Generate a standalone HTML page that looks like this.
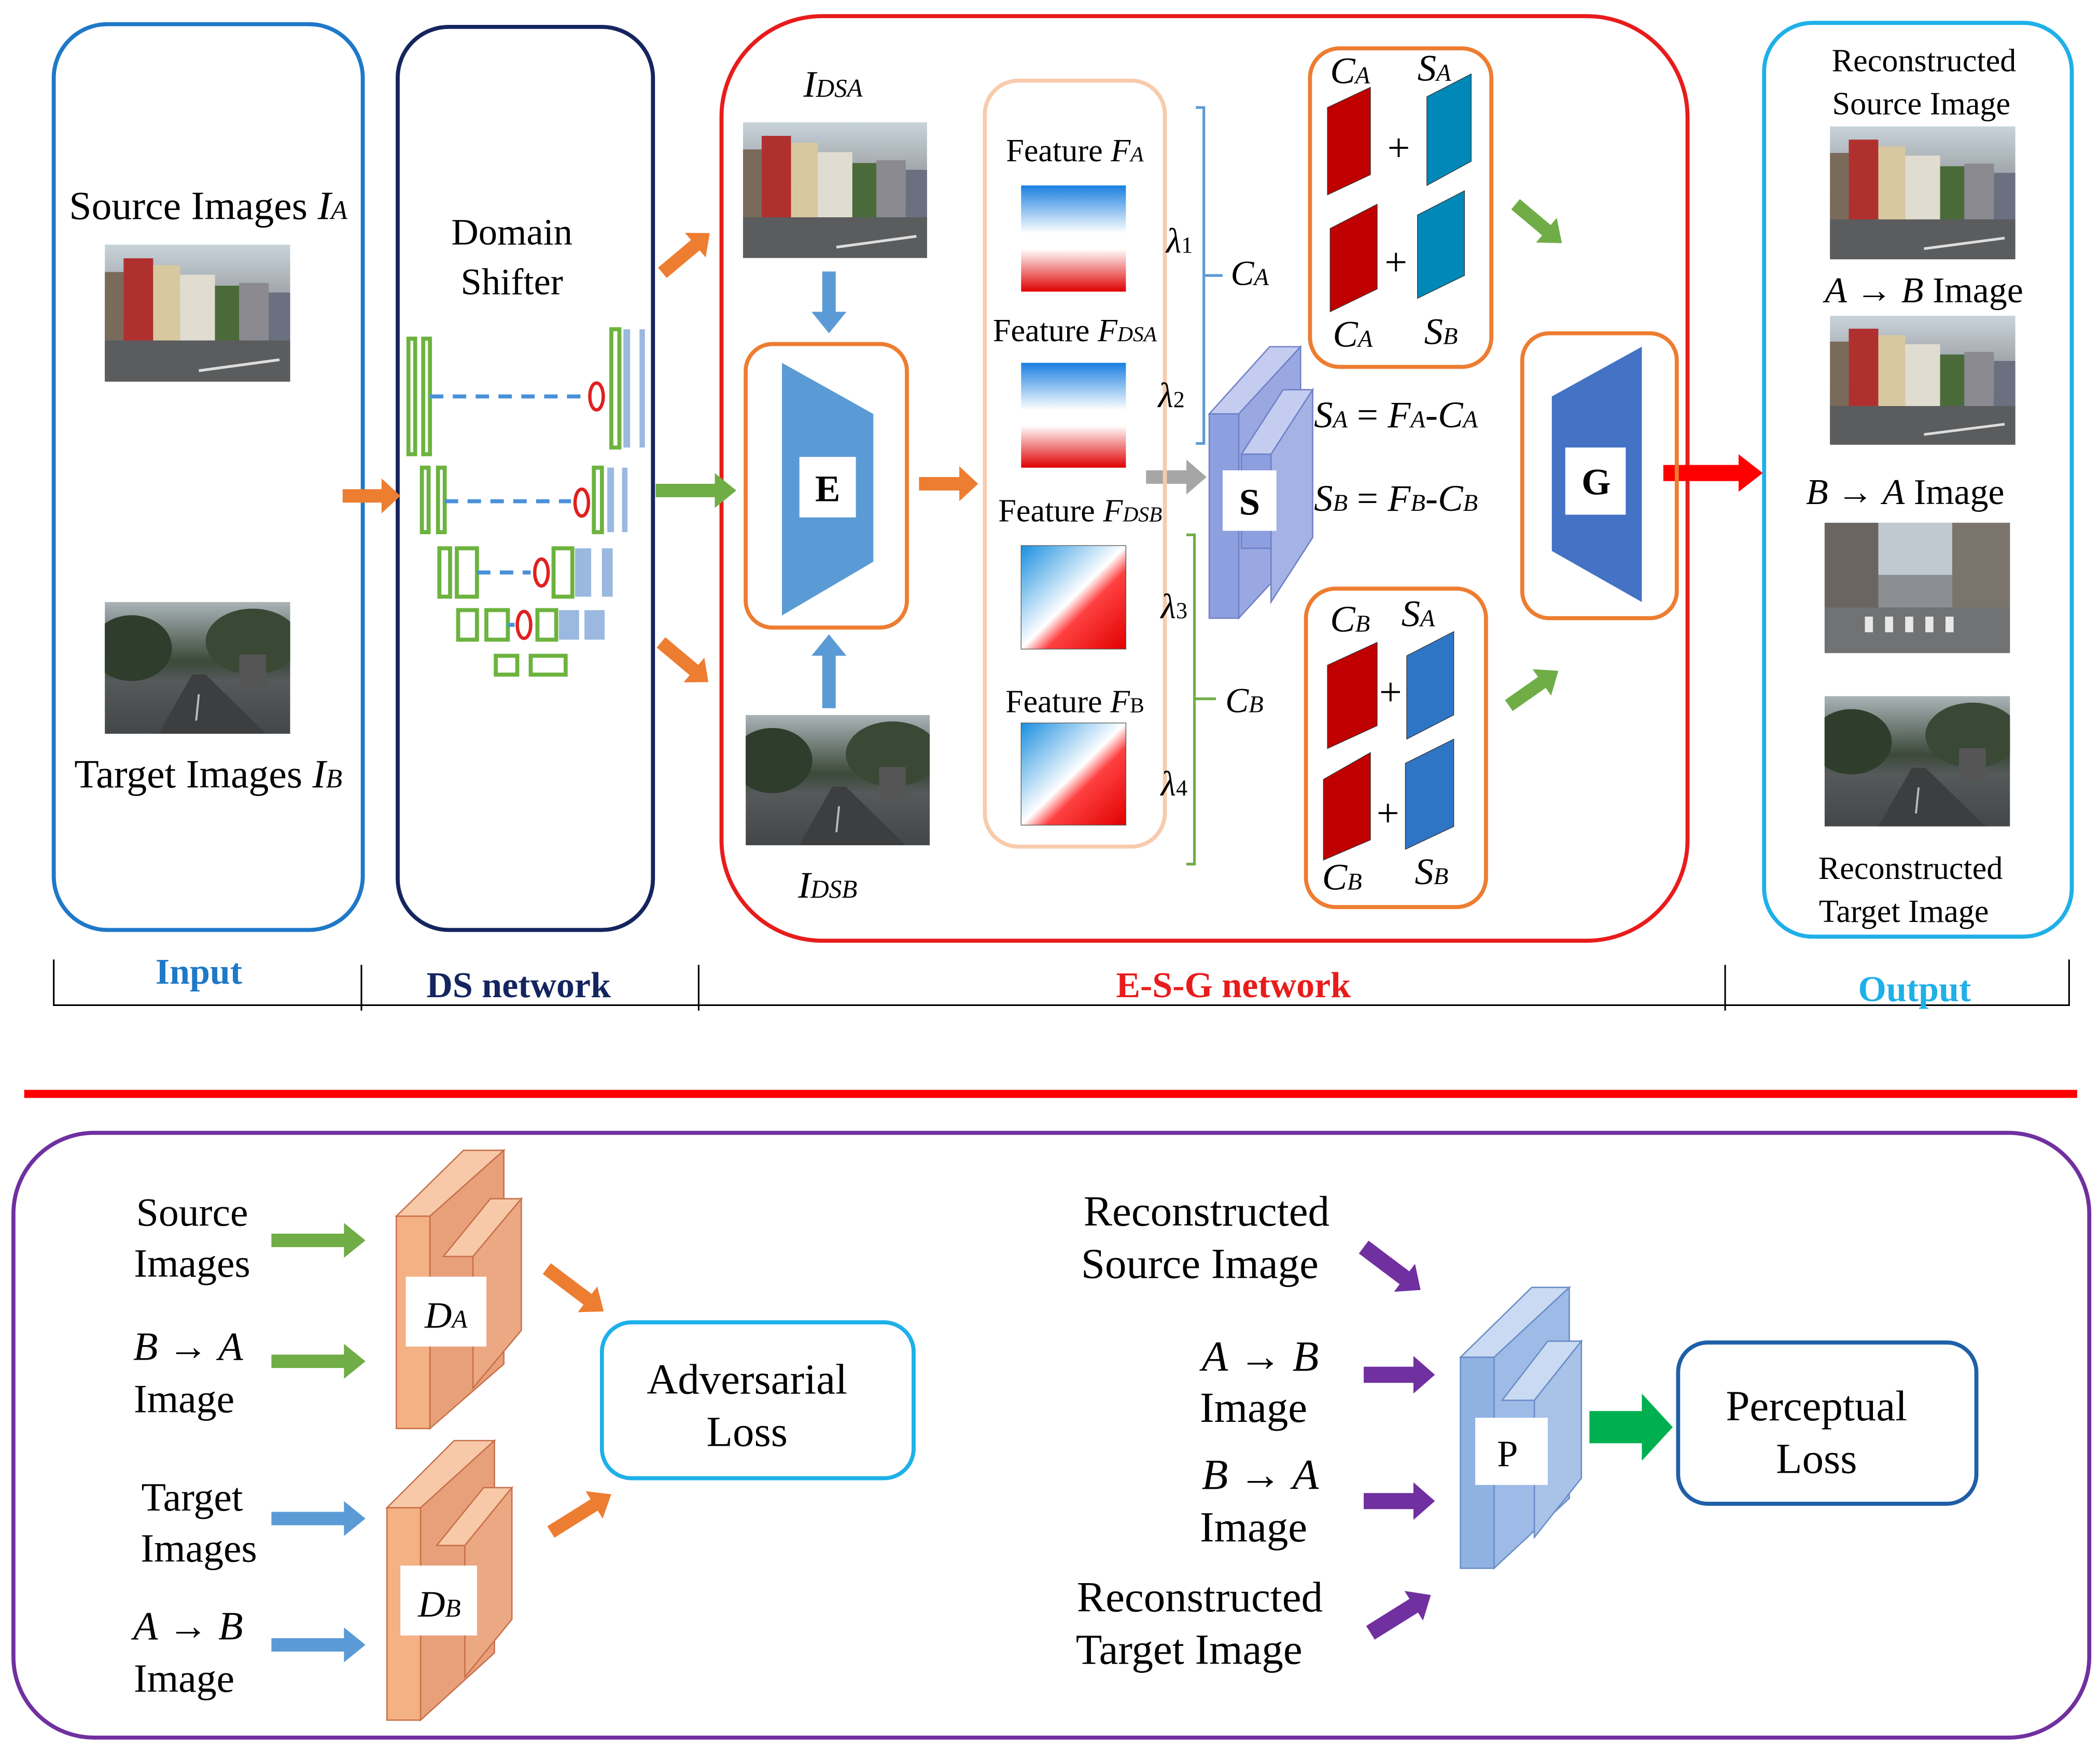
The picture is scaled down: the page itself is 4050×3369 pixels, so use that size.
<!DOCTYPE html>
<html><head><meta charset="utf-8"><style>
html,body{margin:0;padding:0;background:#fff;}
svg{display:block;}
text{font-family:"Liberation Serif",serif;fill:#000;}
</style></head><body>
<svg width="4050" height="3369" viewBox="0 0 1563 1300" preserveAspectRatio="none" xmlns="http://www.w3.org/2000/svg">
<defs>
<linearGradient id="sky" x1="0" y1="0" x2="0" y2="1"><stop offset="0" stop-color="#c9d3da"/><stop offset="0.55" stop-color="#8a8f92"/><stop offset="0.7" stop-color="#5a5d5f"/><stop offset="1" stop-color="#6c6e70"/></linearGradient>
<linearGradient id="sky2" x1="0" y1="0" x2="0" y2="1"><stop offset="0" stop-color="#aab4b8"/><stop offset="0.45" stop-color="#3c4a3a"/><stop offset="0.6" stop-color="#55595a"/><stop offset="1" stop-color="#44474a"/></linearGradient>
<linearGradient id="fv" x1="0" y1="0" x2="0" y2="1"><stop offset="0" stop-color="#1a7fe0"/><stop offset="0.45" stop-color="#ffffff"/><stop offset="0.6" stop-color="#ffffff"/><stop offset="1" stop-color="#e00000"/></linearGradient>
<linearGradient id="fd" x1="0" y1="0" x2="1" y2="1"><stop offset="0" stop-color="#1a8fe0"/><stop offset="0.5" stop-color="#ffffff"/><stop offset="0.62" stop-color="#ff4040"/><stop offset="1" stop-color="#e00000"/></linearGradient>
<symbol id="city" viewBox="0 0 138 100" preserveAspectRatio="none">
<rect width="138" height="100" fill="url(#sky)"/>
<rect x="0" y="20" width="14" height="50" fill="#7a6a5a"/>
<rect x="14" y="10" width="22" height="60" fill="#b03030"/>
<rect x="36" y="15" width="20" height="55" fill="#d8c8a0"/>
<rect x="56" y="22" width="26" height="48" fill="#e0ddd0"/>
<rect x="82" y="30" width="18" height="40" fill="#4a6a3a"/>
<rect x="100" y="28" width="22" height="42" fill="#8a8a90"/>
<rect x="122" y="35" width="16" height="35" fill="#6a7080"/>
<rect x="0" y="70" width="138" height="30" fill="#5a5c5e"/>
<line x1="70" y1="92" x2="130" y2="84" stroke="#ddd" stroke-width="2"/>
</symbol>
<symbol id="street" viewBox="0 0 138 100" preserveAspectRatio="none">
<rect width="138" height="100" fill="url(#sky2)"/>
<ellipse cx="20" cy="35" rx="30" ry="25" fill="#2f3d2c"/>
<ellipse cx="110" cy="30" rx="35" ry="25" fill="#3a4836"/>
<rect x="100" y="40" width="20" height="25" fill="#555"/>
<polygon points="40,100 65,55 75,55 120,100" fill="#3c3e40"/>
<line x1="70" y1="70" x2="68" y2="90" stroke="#bbb" stroke-width="1.5"/>
</symbol>
<symbol id="street2" viewBox="0 0 138 100" preserveAspectRatio="none">
<rect width="138" height="100" fill="#8a8e92"/>
<rect x="0" y="0" width="40" height="65" fill="#6a6560"/>
<rect x="95" y="0" width="43" height="65" fill="#7a746c"/>
<rect x="40" y="0" width="55" height="40" fill="#c0c8d0"/>
<rect x="0" y="65" width="138" height="35" fill="#707274"/>
<g fill="#e8e8e8"><rect x="30" y="72" width="6" height="12"/><rect x="45" y="72" width="6" height="12"/><rect x="60" y="72" width="6" height="12"/><rect x="75" y="72" width="6" height="12"/><rect x="90" y="72" width="6" height="12"/></g>
</symbol>
</defs>

<!-- Top boxes -->
<rect x="40" y="18" width="230" height="674" rx="40" fill="none" stroke="#1f78c8" stroke-width="3"/>
<rect x="296" y="20" width="190" height="672" rx="38" fill="none" stroke="#14255f" stroke-width="3"/>
<rect x="537" y="12" width="719" height="688" rx="75" fill="none" stroke="#e81c1c" stroke-width="3"/>
<rect x="1313" y="17" width="229" height="680" rx="36" fill="none" stroke="#1fb0e8" stroke-width="3"/>

<!-- Input -->
<text x="155" y="163" font-size="30" text-anchor="middle">Source Images <tspan font-style="italic">I</tspan><tspan font-style="italic" font-size="20">A</tspan></text>
<use href="#city" x="78" y="182" width="138" height="102"/>
<use href="#street" x="78" y="448" width="138" height="98"/>
<text x="155" y="586" font-size="30" text-anchor="middle">Target Images <tspan font-style="italic">I</tspan><tspan font-style="italic" font-size="20">B</tspan></text>

<!-- DS -->
<text x="381" y="182" font-size="28" text-anchor="middle">Domain</text>
<text x="381" y="219" font-size="28" text-anchor="middle">Shifter</text>
<g stroke="#6cb33f" stroke-width="3" fill="none">
<rect x="304" y="252" width="5" height="86"/><rect x="315" y="252" width="5" height="86"/>
<rect x="314" y="348" width="5" height="48"/><rect x="326" y="348" width="5" height="48"/>
<rect x="327" y="408" width="8" height="36"/><rect x="340" y="408" width="15" height="36"/>
<rect x="341" y="454" width="14" height="22"/><rect x="362" y="454" width="16" height="22"/>
<rect x="369" y="488" width="16" height="14"/><rect x="395" y="488" width="26" height="14"/>
<rect x="455" y="245" width="6" height="88"/>
<rect x="442" y="348" width="6" height="48"/>
<rect x="412" y="408" width="14" height="36"/>
<rect x="400" y="454" width="14" height="22"/>
</g>
<g fill="#9ab8e0"><rect x="464" y="245" width="5" height="88"/><rect x="476" y="245" width="4" height="88"/>
<rect x="452" y="348" width="5" height="48"/><rect x="463" y="348" width="4" height="48"/>
<rect x="428" y="408" width="12" height="36"/><rect x="448" y="408" width="8" height="36"/>
<rect x="416" y="454" width="15" height="22"/><rect x="435" y="454" width="15" height="22"/></g>
<g stroke="#4a90d9" stroke-width="3" stroke-dasharray="10,7" fill="none">
<line x1="320" y1="295" x2="435" y2="295"/><line x1="331" y1="373" x2="425" y2="373"/>
<line x1="355" y1="426" x2="395" y2="426"/><line x1="378" y1="465" x2="383" y2="465"/></g>
<g fill="none" stroke="#e02020" stroke-width="2.5">
<ellipse cx="444" cy="295" rx="5" ry="10"/><ellipse cx="433" cy="374" rx="5" ry="10"/>
<ellipse cx="403" cy="426" rx="5" ry="10"/><ellipse cx="390" cy="465" rx="5" ry="10"/></g>

<!-- arrows helper: shaft + head -->
<g fill="#ed7d31">
<polygon points="255,364 284,364 284,356 298,369 284,382 284,374 255,374"/>
<g transform="translate(493,203) rotate(-40)"><polygon points="0,-5 32,-5 32,-12 46,0 32,12 32,5 0,5"/></g>
<g transform="translate(492,478) rotate(40)"><polygon points="0,-5 32,-5 32,-12 46,0 32,12 32,5 0,5"/></g>
<polygon points="684,355 714,355 714,347 728,360 714,373 714,365 684,365"/>
</g>
<polygon fill="#70ad47" points="488,360 532,360 532,352 548,365 532,378 532,370 488,370"/>
<g fill="#5b9bd5">
<polygon points="612,202 622,202 622,232 630,232 617,248 604,232 612,232"/>
<polygon points="612,527 622,527 622,488 630,488 617,472 604,488 612,488"/>
</g>
<polygon fill="#a6a6a6" points="853,350 883,350 883,342 898,355 883,368 883,360 853,360"/>
<g fill="#70ad47">
<g transform="translate(1128,152) rotate(40)"><polygon points="0,-5 30,-5 30,-12 45,0 30,12 30,5 0,5"/></g>
<g transform="translate(1123,525) rotate(-35)"><polygon points="0,-5 30,-5 30,-12 45,0 30,12 30,5 0,5"/></g>
</g>
<polygon fill="#ff0000" points="1238,346 1294,346 1294,338 1312,352 1294,366 1294,358 1238,358"/>

<!-- E-S-G -->
<text x="620" y="72" font-size="28" font-style="italic" text-anchor="middle">I<tspan font-size="19">DSA</tspan></text>
<use href="#city" x="553" y="91" width="137" height="101"/>
<use href="#street" x="555" y="532" width="137" height="97"/>
<text x="616" y="668" font-size="28" font-style="italic" text-anchor="middle">I<tspan font-size="19">DSB</tspan></text>
<rect x="555" y="256" width="120" height="211" rx="20" fill="none" stroke="#ed7d31" stroke-width="3"/>
<polygon points="582,270 650,308 650,418 582,458" fill="#5b9bd5"/>
<rect x="595" y="340" width="42" height="45" fill="#fff"/>
<text x="616" y="373" font-size="28" font-weight="bold" text-anchor="middle">E</text>

<rect x="733" y="60" width="134" height="570" rx="25" fill="none" stroke="#f8cbad" stroke-width="3"/>
<text x="800" y="120" font-size="24" text-anchor="middle">Feature <tspan font-style="italic">F</tspan><tspan font-style="italic" font-size="16">A</tspan></text>
<rect x="760" y="138" width="78" height="79" fill="url(#fv)"/>
<text x="800" y="254" font-size="24" text-anchor="middle">Feature <tspan font-style="italic">F</tspan><tspan font-style="italic" font-size="16">DSA</tspan></text>
<rect x="760" y="270" width="78" height="78" fill="url(#fv)"/>
<text x="804" y="388" font-size="24" text-anchor="middle">Feature <tspan font-style="italic">F</tspan><tspan font-style="italic" font-size="16">DSB</tspan></text>
<rect x="760" y="406" width="78" height="77" fill="url(#fd)" stroke="#555" stroke-width="0.5"/>
<text x="800" y="530" font-size="24" text-anchor="middle">Feature <tspan font-style="italic">F</tspan><tspan font-size="16">B</tspan></text>
<rect x="760" y="538" width="78" height="76" fill="url(#fd)" stroke="#555" stroke-width="0.5"/>

<path d="M890,80 L896,80 L896,330 L890,330 M896,205 L910,205" fill="none" stroke="#5b9bd5" stroke-width="2"/>
<path d="M883,398 L889,398 L889,643 L883,643 M889,520 L905,520" fill="none" stroke="#70ad47" stroke-width="2"/>
<g font-size="26" font-style="italic">
<text x="868" y="188">λ<tspan font-size="17" font-style="normal">1</tspan></text>
<text x="862" y="303">λ<tspan font-size="17" font-style="normal">2</tspan></text>
<text x="864" y="460">λ<tspan font-size="17" font-style="normal">3</tspan></text>
<text x="864" y="592">λ<tspan font-size="17" font-style="normal">4</tspan></text>
<text x="916" y="212">C<tspan font-size="18">A</tspan></text>
<text x="912" y="530">C<tspan font-size="18">B</tspan></text>
</g>

<!-- S block -->
<g stroke="#7080c8" stroke-width="1">
<polygon points="900,308 945,258 968,258 922,308" fill="#c4cdf0"/>
<polygon points="922,308 968,258 968,410 922,460" fill="#99a8e0"/>
<rect x="900" y="308" width="22" height="152" fill="#8d9fde"/>
<polygon points="924,338 955,290 977,290 946,338" fill="#c4cdf0"/>
<polygon points="946,338 977,290 977,400 946,448" fill="#a5b2e6"/>
<rect x="924" y="338" width="22" height="70" fill="#8d9fde"/>
</g>
<rect x="910" y="350" width="40" height="45" fill="#fff"/>
<text x="930" y="383" font-size="28" font-weight="bold" text-anchor="middle">S</text>

<g font-size="28" font-style="italic">
<text x="978" y="318">S<tspan font-size="18">A</tspan><tspan font-style="normal"> = </tspan>F<tspan font-size="18">A</tspan><tspan font-style="normal">-</tspan>C<tspan font-size="18">A</tspan></text>
<text x="978" y="380">S<tspan font-size="18">B</tspan><tspan font-style="normal"> = </tspan>F<tspan font-size="18">B</tspan><tspan font-style="normal">-</tspan>C<tspan font-size="18">B</tspan></text>
</g>

<rect x="975" y="36" width="135" height="237" rx="22" fill="none" stroke="#ed7d31" stroke-width="3"/>
<g stroke="#333" stroke-width="0.5">
<polygon points="988,80 1020,65 1020,130 988,145" fill="#c00000"/>
<polygon points="1062,72 1095,55 1095,120 1062,138" fill="#0088b8"/>
<polygon points="990,170 1025,152 1025,215 990,232" fill="#c00000"/>
<polygon points="1055,160 1090,142 1090,205 1055,222" fill="#0088b8"/>
</g>
<g font-size="28" font-style="italic">
<text x="990" y="62">C<tspan font-size="18">A</tspan></text>
<text x="1055" y="60">S<tspan font-size="18">A</tspan></text>
<text x="992" y="258">C<tspan font-size="18">A</tspan></text>
<text x="1060" y="256">S<tspan font-size="18">B</tspan></text>
</g>
<text x="1041" y="120" font-size="30" text-anchor="middle">+</text>
<text x="1039" y="205" font-size="30" text-anchor="middle">+</text>

<rect x="972" y="438" width="134" height="237" rx="22" fill="none" stroke="#ed7d31" stroke-width="3"/>
<g stroke="#333" stroke-width="0.5">
<polygon points="988,495 1025,478 1025,540 988,557" fill="#c00000"/>
<polygon points="1047,488 1082,470 1082,532 1047,550" fill="#2e75c6"/>
<polygon points="985,580 1020,560 1020,625 985,640" fill="#c00000"/>
<polygon points="1046,568 1082,550 1082,615 1046,632" fill="#2e75c6"/>
</g>
<g font-size="28" font-style="italic">
<text x="990" y="470">C<tspan font-size="18">B</tspan></text>
<text x="1043" y="466">S<tspan font-size="18">A</tspan></text>
<text x="984" y="662">C<tspan font-size="18">B</tspan></text>
<text x="1053" y="658">S<tspan font-size="18">B</tspan></text>
</g>
<text x="1035" y="525" font-size="30" text-anchor="middle">+</text>
<text x="1033" y="615" font-size="30" text-anchor="middle">+</text>

<rect x="1133" y="248" width="115" height="212" rx="20" fill="none" stroke="#ed7d31" stroke-width="3"/>
<polygon points="1155,295 1222,258 1222,448 1155,410" fill="#4472c4"/>
<rect x="1165" y="333" width="45" height="50" fill="#fff"/>
<text x="1188" y="368" font-size="28" font-weight="bold" text-anchor="middle">G</text>

<!-- Output -->
<text x="1432" y="53" font-size="24" text-anchor="middle">Reconstructed</text>
<text x="1430" y="85" font-size="24" text-anchor="middle">Source Image</text>
<use href="#city" x="1362" y="94" width="138" height="99"/>
<text x="1432" y="225" font-size="27" text-anchor="middle"><tspan font-style="italic">A</tspan> → <tspan font-style="italic">B</tspan> Image</text>
<use href="#city" x="1362" y="235" width="138" height="96"/>
<text x="1418" y="375" font-size="27" text-anchor="middle"><tspan font-style="italic">B</tspan> → <tspan font-style="italic">A</tspan>  Image</text>
<use href="#street2" x="1358" y="389" width="138" height="97"/>
<use href="#street" x="1358" y="518" width="138" height="97"/>
<text x="1422" y="654" font-size="24" text-anchor="middle">Reconstructed</text>
<text x="1417" y="686" font-size="24" text-anchor="middle">Target Image</text>

<!-- section labels -->
<path d="M40,714 L40,748 L1540,748 L1540,714 M269,718 L269,752 M520,718 L520,752 M1284,718 L1284,752" fill="none" stroke="#000" stroke-width="1.2"/>
<text x="148" y="732" font-size="27" font-weight="bold" fill="#1f78c8" text-anchor="middle" style="fill:#1f78c8">Input</text>
<text x="386" y="742" font-size="27" font-weight="bold" text-anchor="middle" style="fill:#14255f">DS network</text>
<text x="918" y="742" font-size="27" font-weight="bold" text-anchor="middle" style="fill:#e81c1c">E-S-G network</text>
<text x="1425" y="745" font-size="27" font-weight="bold" text-anchor="middle" style="fill:#1fb0e8">Output</text>

<rect x="18" y="811" width="1528" height="6" fill="#ff0000"/>

<!-- Bottom -->
<rect x="10" y="843" width="1545" height="450" rx="60" fill="none" stroke="#7030a0" stroke-width="3"/>
<g font-size="30">
<text x="143" y="912" text-anchor="middle">Source</text>
<text x="143" y="950" text-anchor="middle">Images</text>
<text x="140" y="1012" text-anchor="middle"><tspan font-style="italic">B</tspan> → <tspan font-style="italic">A</tspan></text>
<text x="137" y="1051" text-anchor="middle">Image</text>
<text x="143" y="1124" text-anchor="middle">Target</text>
<text x="148" y="1162" text-anchor="middle">Images</text>
<text x="140" y="1220" text-anchor="middle"><tspan font-style="italic">A</tspan> → <tspan font-style="italic">B</tspan></text>
<text x="137" y="1259" text-anchor="middle">Image</text>
</g>
<g fill="#70ad47">
<polygon points="202,918 256,918 256,910 272,923 256,936 256,928 202,928"/>
<polygon points="202,1008 256,1008 256,1000 272,1013 256,1026 256,1018 202,1018"/>
</g>
<g fill="#5b9bd5">
<polygon points="202,1125 256,1125 256,1117 272,1130 256,1143 256,1135 202,1135"/>
<polygon points="202,1219 256,1219 256,1211 272,1224 256,1237 256,1229 202,1229"/>
</g>
<!-- D_A -->
<g stroke="#c8704a" stroke-width="1">
<polygon points="295,905 345,856 375,856 320,905" fill="#f8c9a8"/>
<polygon points="320,905 375,856 375,1015 320,1063" fill="#e8a07a"/>
<rect x="295" y="905" width="25" height="158" fill="#f4b183"/>
<polygon points="330,935 365,892 388,892 352,935" fill="#f8c9a8"/>
<polygon points="352,935 388,892 388,990 352,1033" fill="#eba882"/>
</g>
<rect x="302" y="950" width="60" height="52" fill="#fff"/>
<text x="332" y="988" font-size="28" font-style="italic" text-anchor="middle">D<tspan font-size="19">A</tspan></text>
<!-- D_B -->
<g stroke="#c8704a" stroke-width="1">
<polygon points="288,1122 338,1072 368,1072 313,1122" fill="#f8c9a8"/>
<polygon points="313,1122 368,1072 368,1230 313,1280" fill="#e8a07a"/>
<rect x="288" y="1122" width="25" height="158" fill="#f4b183"/>
<polygon points="325,1150 360,1107 381,1107 346,1150" fill="#f8c9a8"/>
<polygon points="346,1150 381,1107 381,1205 346,1248" fill="#eba882"/>
</g>
<rect x="298" y="1165" width="57" height="52" fill="#fff"/>
<text x="327" y="1203" font-size="28" font-style="italic" text-anchor="middle">D<tspan font-size="19">B</tspan></text>
<g fill="#ed7d31">
<g transform="translate(407,944) rotate(37)"><polygon points="0,-5 38,-5 38,-12 53,0 38,12 38,5 0,5"/></g>
<g transform="translate(410,1140) rotate(-32)"><polygon points="0,-5 38,-5 38,-12 53,0 38,12 38,5 0,5"/></g>
</g>
<rect x="448" y="984" width="232" height="116" rx="22" fill="none" stroke="#1fb0e8" stroke-width="3"/>
<text x="556" y="1037" font-size="32" text-anchor="middle">Adversarial</text>
<text x="556" y="1076" font-size="32" text-anchor="middle">Loss</text>

<g font-size="32">
<text x="898" y="912" text-anchor="middle">Reconstructed</text>
<text x="893" y="951" text-anchor="middle">Source Image</text>
<text x="938" y="1020" text-anchor="middle"><tspan font-style="italic">A</tspan> → <tspan font-style="italic">B</tspan></text>
<text x="933" y="1058" text-anchor="middle">Image</text>
<text x="938" y="1108" text-anchor="middle"><tspan font-style="italic">B</tspan> → <tspan font-style="italic">A</tspan></text>
<text x="933" y="1147" text-anchor="middle">Image</text>
<text x="893" y="1199" text-anchor="middle">Reconstructed</text>
<text x="885" y="1238" text-anchor="middle">Target Image</text>
</g>
<g fill="#7030a0">
<g transform="translate(1015,928) rotate(37)"><polygon points="0,-6 38,-6 38,-13 53,0 38,13 38,6 0,6"/></g>
<polygon points="1015,1017 1052,1017 1052,1009 1068,1023 1052,1037 1052,1029 1015,1029"/>
<polygon points="1015,1111 1052,1111 1052,1103 1068,1117 1052,1131 1052,1123 1015,1123"/>
<g transform="translate(1020,1215) rotate(-32)"><polygon points="0,-6 38,-6 38,-13 53,0 38,13 38,6 0,6"/></g>
</g>
<!-- P -->
<g stroke="#6a8cc8" stroke-width="1">
<polygon points="1087,1010 1140,958 1168,958 1112,1010" fill="#c9daf2"/>
<polygon points="1112,1010 1168,958 1168,1115 1112,1167" fill="#9dbbe6"/>
<rect x="1087" y="1010" width="25" height="157" fill="#8fb2e2"/>
<polygon points="1118,1042 1152,998 1177,998 1142,1042" fill="#c9daf2"/>
<polygon points="1142,1042 1177,998 1177,1100 1142,1144" fill="#a8c2e8"/>
</g>
<rect x="1098" y="1055" width="54" height="50" fill="#fff"/>
<text x="1122" y="1091" font-size="28" text-anchor="middle">P</text>
<polygon fill="#00b050" points="1183,1050 1222,1050 1222,1037 1245,1062 1222,1087 1222,1074 1183,1074"/>
<rect x="1249" y="999" width="222" height="120" rx="22" fill="none" stroke="#1f5fa8" stroke-width="3"/>
<text x="1352" y="1057" font-size="32" text-anchor="middle">Perceptual</text>
<text x="1352" y="1096" font-size="32" text-anchor="middle">Loss</text>
</svg>
</body></html>
